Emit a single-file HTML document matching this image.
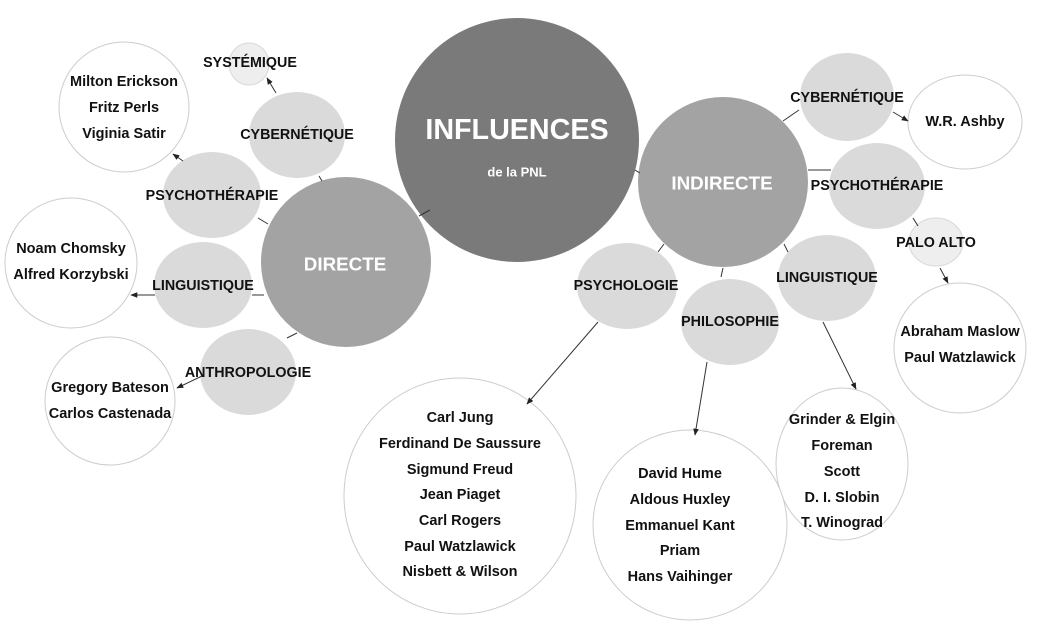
<!DOCTYPE html>
<html><head><meta charset="utf-8"><style>
html,body{margin:0;padding:0;background:#fff;}
svg{display:block;}
text{font-family:"Liberation Sans",Arial,sans-serif;font-weight:bold;text-anchor:middle;dominant-baseline:central;}
.l{font-size:14.3px;fill:#111;}
.n{font-size:14.5px;fill:#111;}
</style></head><body>
<svg width="1039" height="629" viewBox="0 0 1039 629">
<defs><marker id="a" viewBox="0 0 10 10" refX="9" refY="5" markerWidth="7" markerHeight="7" orient="auto"><path d="M0,1 L10,5 L0,9 z" fill="#222"/></marker></defs>
<g stroke="#ccc" stroke-width="1" fill="#fff">
<ellipse cx="124" cy="107" rx="65" ry="65"/>
<ellipse cx="71" cy="263" rx="66" ry="65"/>
<ellipse cx="110" cy="401" rx="65" ry="64"/>
<ellipse cx="965" cy="122" rx="57" ry="47"/>
<ellipse cx="960" cy="348" rx="66" ry="65"/>
<ellipse cx="842" cy="464" rx="66" ry="76"/>
<ellipse cx="690" cy="525" rx="97" ry="95"/>
<ellipse cx="460" cy="496" rx="116" ry="118"/>
</g>
<g fill="#eeeeee" stroke="#d8d8d8">
<ellipse cx="249" cy="64" rx="20" ry="21"/>
<ellipse cx="936" cy="242" rx="27" ry="24"/>
</g>
<g fill="#dadada">
<ellipse cx="297" cy="135" rx="48" ry="43"/>
<ellipse cx="212" cy="195" rx="49" ry="43"/>
<ellipse cx="203" cy="285" rx="49" ry="43"/>
<ellipse cx="248" cy="372" rx="48" ry="43"/>
<ellipse cx="847" cy="97" rx="47" ry="44"/>
<ellipse cx="877" cy="186" rx="48" ry="43"/>
<ellipse cx="827" cy="278" rx="49" ry="43"/>
<ellipse cx="730" cy="322" rx="49" ry="43"/>
<ellipse cx="627" cy="286" rx="50" ry="43"/>
</g>
<circle cx="517" cy="140" r="122" fill="#7a7a7a"/>
<circle cx="346" cy="262" r="85" fill="#a3a3a3"/>
<circle cx="723" cy="182" r="85" fill="#a3a3a3"/>
<g stroke="#333" stroke-width="1" fill="none">
<line x1="419" y1="216" x2="430" y2="210"/>
<line x1="635" y1="170" x2="640" y2="173"/>
<line x1="276" y1="93" x2="267" y2="78" marker-end="url(#a)"/>
<line x1="183" y1="161" x2="173" y2="154" marker-end="url(#a)"/>
<line x1="319" y1="176" x2="322" y2="181"/>
<line x1="258" y1="218" x2="268" y2="224"/>
<line x1="252" y1="295" x2="264" y2="295"/>
<line x1="155" y1="295" x2="131" y2="295" marker-end="url(#a)"/>
<line x1="287" y1="338" x2="297" y2="333"/>
<line x1="202" y1="376" x2="177" y2="388" marker-end="url(#a)"/>
<line x1="783" y1="121" x2="799" y2="110"/>
<line x1="893" y1="112" x2="908" y2="121" marker-end="url(#a)"/>
<line x1="808" y1="170" x2="831" y2="170"/>
<line x1="913" y1="218" x2="918" y2="226"/>
<line x1="940" y1="268" x2="948" y2="283" marker-end="url(#a)"/>
<line x1="784" y1="244" x2="788" y2="252"/>
<line x1="723" y1="268" x2="721" y2="277"/>
<line x1="664" y1="244" x2="658" y2="252"/>
<line x1="598" y1="322" x2="527" y2="404" marker-end="url(#a)"/>
<line x1="707" y1="362" x2="695" y2="435" marker-end="url(#a)"/>
<line x1="823" y1="322" x2="856" y2="389" marker-end="url(#a)"/>
</g>
<text x="517" y="130" style="font-size:28.7px;fill:#fff">INFLUENCES</text>
<text x="517" y="172" style="font-size:13px;fill:#fff">de la PNL</text>
<text x="345" y="264" style="font-size:18.8px;fill:#fff">DIRECTE</text>
<text x="722" y="183" style="font-size:18.8px;fill:#fff">INDIRECTE</text>
<text class="l" x="250" y="63">SYSTÉMIQUE</text>
<text class="l" x="297" y="135">CYBERNÉTIQUE</text>
<text class="l" x="212" y="196">PSYCHOTHÉRAPIE</text>
<text class="l" x="203" y="286">LINGUISTIQUE</text>
<text class="l" x="248" y="373">ANTHROPOLOGIE</text>
<text class="l" x="847" y="98">CYBERNÉTIQUE</text>
<text class="l" x="877" y="186">PSYCHOTHÉRAPIE</text>
<text class="l" x="936" y="243">PALO ALTO</text>
<text class="l" x="827" y="278">LINGUISTIQUE</text>
<text class="l" x="730" y="322">PHILOSOPHIE</text>
<text class="l" x="626" y="286">PSYCHOLOGIE</text>
<text class="n" x="124" y="82">Milton Erickson</text>
<text class="n" x="124" y="108">Fritz Perls</text>
<text class="n" x="124" y="134">Viginia Satir</text>
<text class="n" x="71" y="249">Noam Chomsky</text>
<text class="n" x="71" y="275">Alfred Korzybski</text>
<text class="n" x="110" y="388">Gregory Bateson</text>
<text class="n" x="110" y="414">Carlos Castenada</text>
<text class="n" x="965" y="122">W.R. Ashby</text>
<text class="n" x="960" y="332">Abraham Maslow</text>
<text class="n" x="960" y="358">Paul Watzlawick</text>
<text class="n" x="842" y="420">Grinder &amp; Elgin</text>
<text class="n" x="842" y="446">Foreman</text>
<text class="n" x="842" y="472">Scott</text>
<text class="n" x="842" y="498">D. I. Slobin</text>
<text class="n" x="842" y="523">T. Winograd</text>
<text class="n" x="680" y="474">David Hume</text>
<text class="n" x="680" y="500">Aldous Huxley</text>
<text class="n" x="680" y="526">Emmanuel Kant</text>
<text class="n" x="680" y="551">Priam</text>
<text class="n" x="680" y="577">Hans Vaihinger</text>
<text class="n" x="460" y="418">Carl Jung</text>
<text class="n" x="460" y="444">Ferdinand De Saussure</text>
<text class="n" x="460" y="470">Sigmund Freud</text>
<text class="n" x="460" y="495">Jean Piaget</text>
<text class="n" x="460" y="521">Carl Rogers</text>
<text class="n" x="460" y="547">Paul Watzlawick</text>
<text class="n" x="460" y="572">Nisbett &amp; Wilson</text>
</svg>
</body></html>
